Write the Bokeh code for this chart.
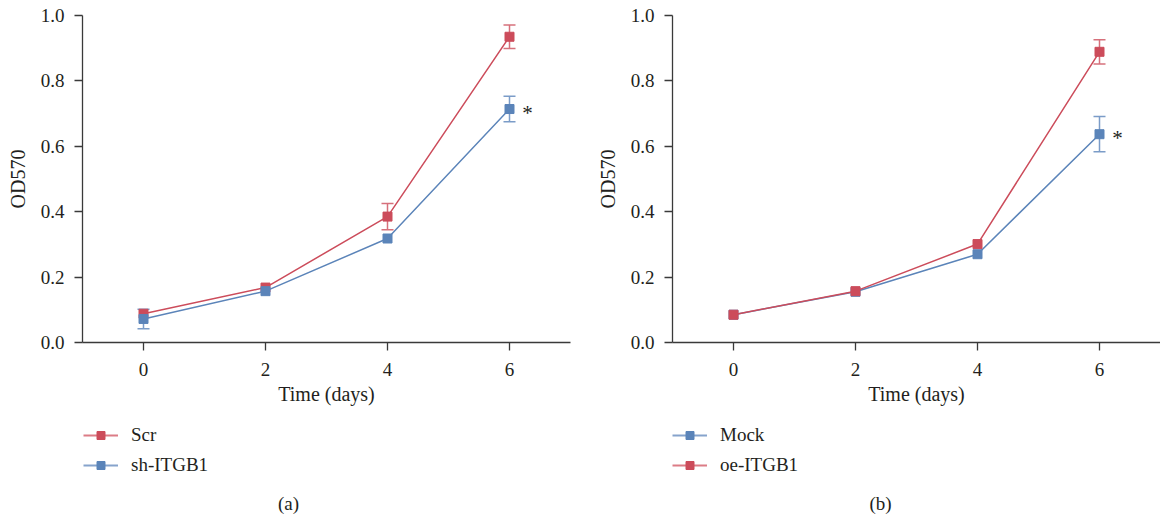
from bokeh.plotting import figure
from bokeh.layouts import row, column
from bokeh.models import (ColumnDataSource, Range1d, FixedTicker, NumeralTickFormatter,
                          Whisker, TeeHead, Legend, LegendItem, Label)
from bokeh.core.properties import value
from bokeh.embed import file_html
from bokeh.resources import INLINE

# ---------------- data ----------------
days = [0, 2, 4, 6]
x_ticks = [0, 2, 4, 6]
y_ticks = [0.0, 0.2, 0.4, 0.6, 0.8, 1.0]

# panel (a)
scr_mean = [0.088, 0.168, 0.385, 0.935]
scr_err = [0.0, 0.0, 0.040, 0.036]
sh_mean = [0.072, 0.157, 0.318, 0.714]
sh_err = [0.030, 0.0, 0.0, 0.039]

# panel (b)
mock_mean = [0.085, 0.155, 0.270, 0.637]
mock_err = [0.0, 0.0, 0.0, 0.054]
oe_mean = [0.085, 0.157, 0.301, 0.889]
oe_err = [0.0, 0.0, 0.0, 0.037]

RED = "#cc4c5b"
BLUE = "#5b84b9"
RED_ERR = "#d6707b"
BLUE_ERR = "#7b9cc8"
RED_LEG = "#dc7c86"
BLUE_LEG = "#86a3cc"
TXT = "#231f20"
AX = "#3a3a3a"
FONT = "Liberation Serif"


def make_panel(series, star_series, panel_label, border_left, border_right,
               leg_x, label_x):
    p = figure(width=580, height=420, output_backend="svg", toolbar_location=None,
               x_range=Range1d(-1, 7), y_range=Range1d(0, 1.0),
               min_border_left=border_left, min_border_right=border_right,
               min_border_top=15, min_border_bottom=78)
    p.outline_line_color = None
    p.xgrid.grid_line_color = None
    p.ygrid.grid_line_color = None

    for ax in (p.xaxis[0], p.yaxis[0]):
        ax.axis_line_color = AX
        ax.axis_line_width = 1.3
        ax.major_tick_line_color = AX
        ax.major_tick_line_width = 1.3
        ax.major_tick_in = 0
        ax.major_tick_out = 8
        ax.minor_tick_line_color = None
        ax.major_label_text_font = FONT
        ax.major_label_text_font_size = "19px"
        ax.major_label_text_color = TXT
        ax.axis_label_text_font = FONT
        ax.axis_label_text_font_size = "20px"
        ax.axis_label_text_font_style = "normal"
        ax.axis_label_text_color = TXT

    p.xaxis.ticker = FixedTicker(ticks=x_ticks)
    p.yaxis.ticker = FixedTicker(ticks=y_ticks)
    p.yaxis.formatter = NumeralTickFormatter(format="0.0")
    p.xaxis.axis_label = "Time (days)"
    p.yaxis.axis_label = "OD570"
    p.xaxis.major_label_standoff = 12
    p.yaxis.major_label_standoff = 10
    p.xaxis.axis_label_standoff = 4
    p.yaxis.axis_label_standoff = 9

    # legend strip under the chart (its frame is aligned with the chart frame)
    lp = figure(width=580, height=100, output_backend="svg", toolbar_location=None,
                x_axis_location=None, y_axis_location=None,
                x_range=Range1d(-1, 7), y_range=Range1d(0, 1.0),
                min_border_left=0, min_border_right=0, min_border_top=0, min_border_bottom=0)
    lp.outline_line_color = None
    lp.xgrid.grid_line_color = None
    lp.ygrid.grid_line_color = None

    items = []
    for name, mean, err, col, ecol, lcol in series:
        src = ColumnDataSource(dict(x=days, y=mean))
        p.line("x", "y", source=src, line_color=col, line_width=1.5)
        p.scatter("x", "y", source=src, marker="square", size=9,
                  fill_color=col, line_color=col)
        ex = [d for d, e in zip(days, err) if e > 0]
        ey = [m for m, e in zip(mean, err) if e > 0]
        ee = [e for e in err if e > 0]
        esrc = ColumnDataSource(dict(x=ex, lo=[m - e for m, e in zip(ey, ee)],
                                     hi=[m + e for m, e in zip(ey, ee)]))
        w = Whisker(base="x", lower="lo", upper="hi", source=esrc,
                    line_color=ecol, line_width=1.5,
                    upper_head=TeeHead(size=12, line_color=ecol, line_width=1.5),
                    lower_head=TeeHead(size=12, line_color=ecol, line_width=1.5))
        p.add_layout(w)

        # legend-only renderers (hidden; only their legend glyphs are shown)
        lln = lp.line("x", "y", source=src, line_color=lcol, line_width=2.2, visible=False)
        lsq = lp.scatter("x", "y", source=src, marker="square", size=9,
                         fill_color=col, line_color=col, visible=False)
        items.append(LegendItem(label=name, renderers=[lln, lsq]))

    # significance asterisk at last point of the lower series
    star_src = ColumnDataSource(dict(x=[days[-1]], y=[star_series[-1]], t=["*"]))
    p.text("x", "y", text="t", source=star_src, x_offset=18, y_offset=4,
           text_align="center", text_baseline="middle",
           text_font=value(FONT), text_font_size="21px", text_color=TXT)

    leg = Legend(items=items, location=(leg_x, 44), orientation="vertical",
                 glyph_width=35, glyph_height=20, label_height=20, spacing=8,
                 label_standoff=13, padding=0, margin=0,
                 border_line_color=None, background_fill_alpha=0,
                 inactive_fill_alpha=0,
                 label_text_font=FONT, label_text_font_size="19px",
                 label_text_color=TXT)
    lp.add_layout(leg)

    lp.add_layout(Label(x=label_x, y=17, x_units="screen", y_units="screen",
                        text=panel_label, text_align="center", text_baseline="middle",
                        text_font=FONT, text_font_size="19px", text_color=TXT))
    return column(p, lp)


pa = make_panel([("Scr", scr_mean, scr_err, RED, RED_ERR, RED_LEG),
                 ("sh-ITGB1", sh_mean, sh_err, BLUE, BLUE_ERR, BLUE_LEG)],
                sh_mean, "(a)", 82, 10, 1, 206)
pb = make_panel([("Mock", mock_mean, mock_err, BLUE, BLUE_ERR, BLUE_LEG),
                 ("oe-ITGB1", oe_mean, oe_err, RED, RED_ERR, RED_LEG)],
                mock_mean, "(b)", 92, 0, 0, 208)

layout = row(pa, pb)
open("out.html", "w").write(file_html(layout, INLINE))
